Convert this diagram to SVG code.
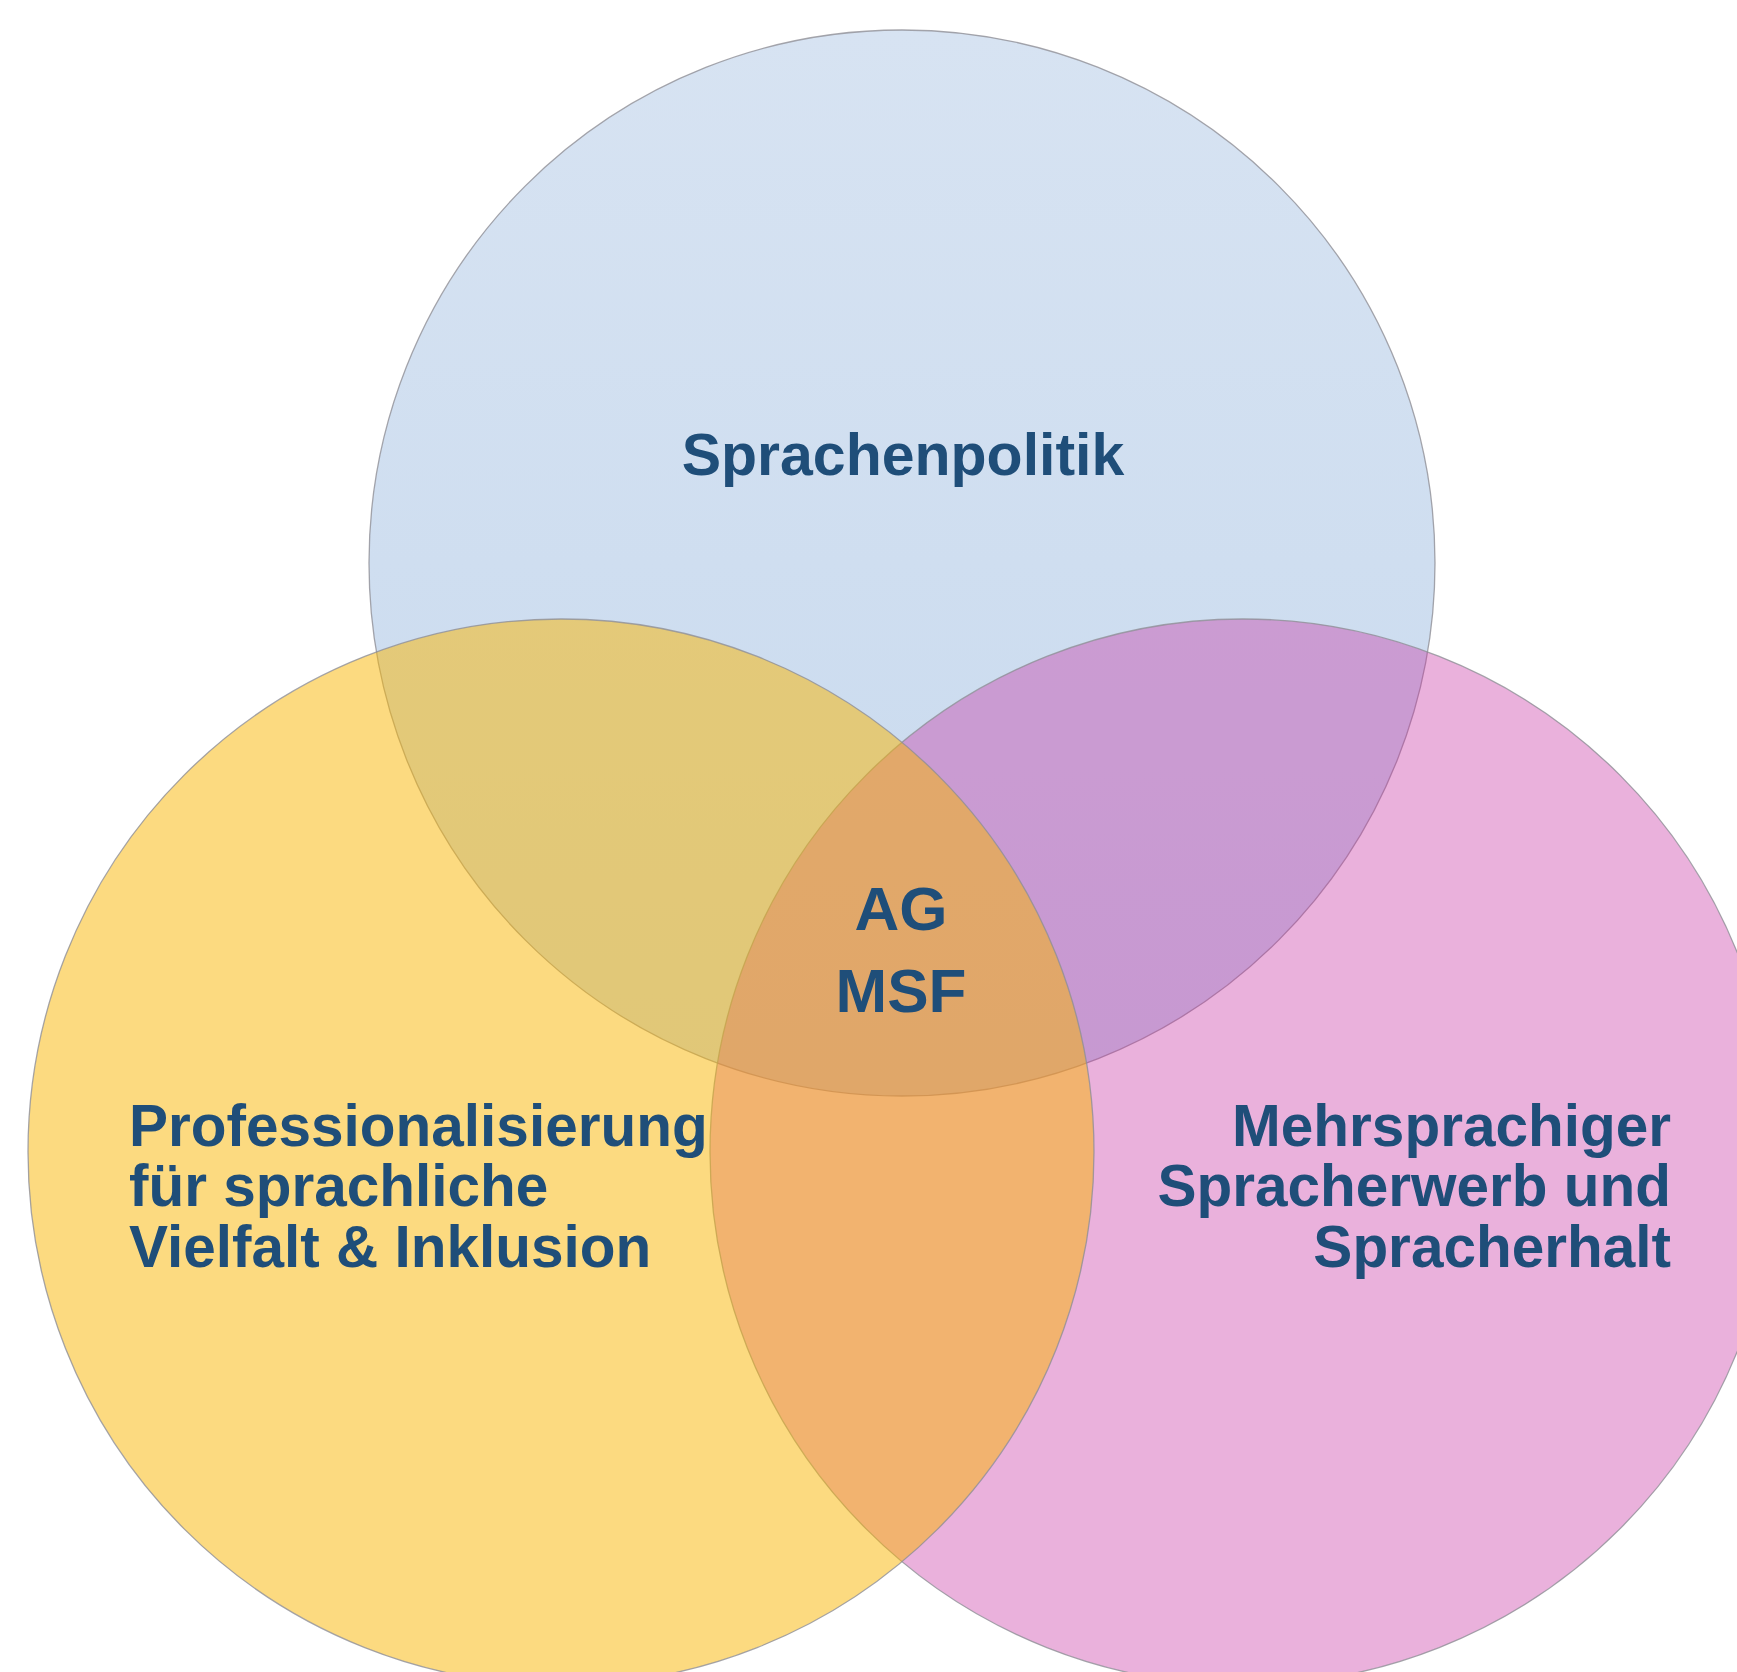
<svg xmlns="http://www.w3.org/2000/svg" width="1737" height="1672" viewBox="0 0 1737 1672">
<style>
.c{stroke:#8E8E96;stroke-width:1.3;stroke-opacity:0.8}
.t{font-family:"Liberation Sans",Arial,sans-serif;font-weight:bold;fill:#1F4E79}
.b{font-size:58.5px}
</style>
<defs>
<linearGradient id="gb" x1="0" y1="0" x2="0" y2="1">
<stop offset="0" stop-color="#D7E3F2"/>
<stop offset="1" stop-color="#C7D9EE"/>
</linearGradient>
</defs>
<rect width="1737" height="1672" fill="#FFFFFF"/>
<g id="node-sprachenpolitik">
<circle class="c" cx="902" cy="563" r="533" fill="url(#gb)"/>
</g>
<g id="node-mehrsprachiger">
<circle class="c" cx="1243" cy="1152" r="533" fill="#C62CA0" fill-opacity="0.37"/>
</g>
<g id="node-professionalisierung">
<circle class="c" cx="561" cy="1152" r="533" fill="#F9B501" fill-opacity="0.5"/>
</g>
<g id="connectors"></g>
<g id="labels">
<text class="t" x="903" y="475" font-size="59" text-anchor="middle">Sprachenpolitik</text>
<text class="t" x="901" y="930" font-size="62" text-anchor="middle">AG</text>
<text class="t" x="901" y="1012" font-size="62" text-anchor="middle">MSF</text>
<text class="t b" x="129" y="1146">Professionalisierung</text>
<text class="t b" x="129" y="1206">für sprachliche</text>
<text class="t b" x="129" y="1267">Vielfalt &amp; Inklusion</text>
<text class="t b" x="1671" y="1146" text-anchor="end">Mehrsprachiger</text>
<text class="t b" x="1671" y="1206" text-anchor="end">Spracherwerb und</text>
<text class="t b" x="1671" y="1267" text-anchor="end">Spracherhalt</text>
</g>
</svg>
